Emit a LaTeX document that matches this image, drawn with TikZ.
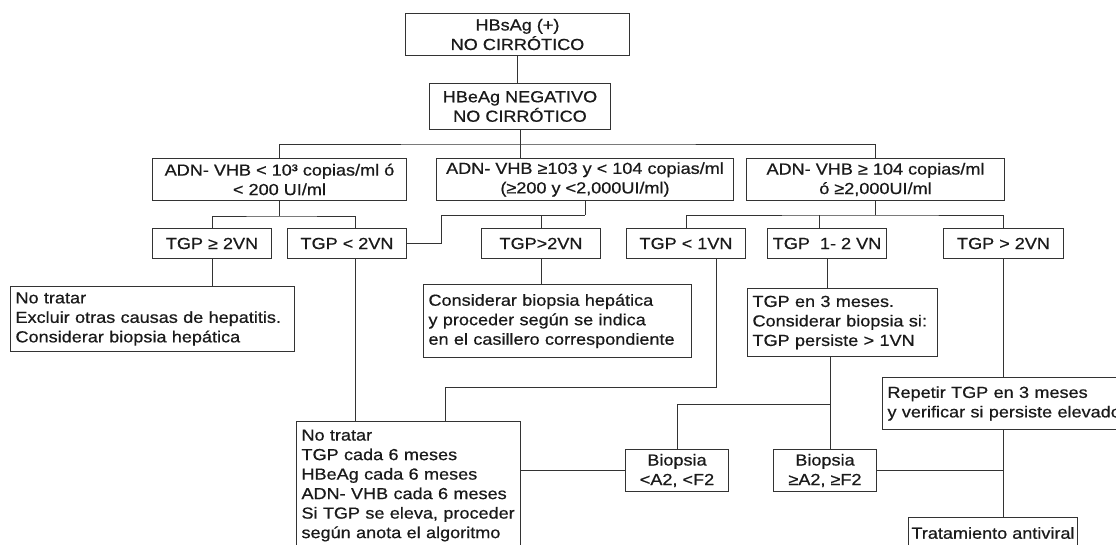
\documentclass[tikz,border=0pt]{standalone}
\usepackage{fontspec}
\setmainfont{Liberation Sans}[FakeStretch=1.13, FakeBold=0.6]
\usepackage{tikz}
\usetikzlibrary{positioning, calc}
\definecolor{ink} {HTML}{1A1A1A}
\definecolor{rule}{HTML}{333333}

\begin{document}
\begin{tikzpicture}[x=1pt, y=-1pt,
      box/.style ={draw=rule, line width=1pt, fill=white, anchor=north west,
                   font=\fontsize{16}{19.5}\selectfont, text=ink,
                   align=center, inner sep=0pt},
      tgp/.style ={box, minimum width=119pt, minimum height=30pt},
      lbox/.style={box, align=left, inner xsep=5pt},
      link/.style={draw=rule, line width=1pt}]

    \useasboundingbox (0,0) rectangle (1116,544);
    \fill[white] (0,0) rectangle (1116,544);
    \clip (0,0) rectangle (1116,544);

    % top of the tree
    \node[box, minimum width=224pt, minimum height=42pt] (hbs) at (405,13) {HBsAg (+)\\NO CIRRÓTICO};
    \node[box, minimum width=181pt, minimum height=46pt] (hbe) at (429,83) {HBeAg NEGATIVO\\NO CIRRÓTICO};

    \node[box, minimum width=254pt, minimum height=42pt] (adn1) at (152,158) {ADN- VHB < 10³ copias/ml ó\\< 200 UI/ml};
    \node[box, minimum width=297pt, minimum height=42pt] (adn2) at (436,158) {ADN- VHB ≥103 y < 104 copias/ml\\(≥200 y <2,000UI/ml)};
    \node[box, minimum width=258pt, minimum height=42pt] (adn3) at (746,158) {ADN- VHB ≥ 104 copias/ml\\ó ≥2,000UI/ml};

    \node[tgp] (tgpA) at (152,228) {TGP ≥ 2VN};
    \node[tgp] (tgpB) at (287,228) {TGP < 2VN};
    \node[tgp] (tgpC) at (481,228) {TGP>2VN};
    \node[tgp] (tgpD) at (626,228) {TGP < 1VN};
    \node[tgp] (tgpE) at (767,228) {TGP~ 1- 2 VN};
    \node[tgp, minimum width=120pt] (tgpF) at (943,228) {TGP > 2VN};

    % actions
    \node[lbox, text width=274pt, minimum height=65pt] (notA) at (10,286)
      {No tratar\\Excluir otras causas de hepatitis.\\Considerar biopsia hepática};
    \node[lbox, text width=258pt, minimum height=73pt] (cons) at (423,284)
      {Considerar biopsia hepática\\y proceder según se indica\\en el casillero correspondiente};
    \node[lbox, text width=180pt, minimum height=68pt] (tgp3m) at (747,288)
      {TGP en 3 meses.\\Considerar biopsia si:\\TGP persiste > 1VN};
    \node[lbox, text width=214pt, minimum height=128pt] (notB) at (296,421)
      {No tratar\\TGP cada 6 meses\\HBeAg cada 6 meses\\ADN- VHB cada 6 meses\\Si TGP se eleva, proceder\\según anota el algoritmo};
    \node[box, minimum width=103pt, minimum height=42pt] (biopA) at (625,449) {Biopsia\\<A2, <F2};
    \node[box, minimum width=103pt, minimum height=42pt] (biopB) at (773,449) {Biopsia\\≥A2, ≥F2};
    \node[lbox, text width=262pt, minimum height=52pt] (rep) at (882,377)
      {Repetir TGP en 3 meses\\y verificar si persiste elevado};
    \node[box, minimum width=169pt, minimum height=31pt] (trat) at (908,517) {Tratamiento antiviral};

    % connectors
    \coordinate (s1) at ($(hbe.south)+(0,14)$);
    \coordinate (s2) at ($(adn1.south)+(0,15)$);
    \coordinate (s3) at ($(adn2.south)+(0,14)$);
    \coordinate (s4) at ($(adn3.south)+(0,14)$);
    \coordinate (e4) at ([xshift=-8pt]tgpE.north);
    \coordinate (b1) at ([xshift=8pt]tgpB.south);
    \coordinate (d1) at ([xshift=30pt]tgpD.south);
    \coordinate (n1) at ([xshift=37pt]notB.north);
    \coordinate (e2) at ([xshift=-12pt]tgp3m.south);

    \draw[link] (hbs.south) -- (hbs.south |- hbe.north);
    \draw[link] (hbe.south) -- (hbe.south |- adn2.north);
    \draw[link] (adn1.north) |- (s1) -| (adn3.north);

    \draw[link] (adn1.south) -- (s2);
    \draw[link] (tgpA.north) |- (s2) -| ([xshift=8pt]tgpB.north);
    \draw[link] (adn2.south) -- (s3);
    \draw[link] (tgpC.north) |- (s3);
    \draw[link] (tgpB.east) -- ++(34,0) |- (s3);
    \draw[link] (adn3.south) -- (s4);
    \draw[link] (tgpD.north) |- (s4) -| (tgpF.north);
    \draw[link] (e4) -- (e4 |- s4);

    \draw[link] (tgpA.south) -- (tgpA.south |- notA.north);
    \draw[link] (b1) -- (b1 |- notB.north);
    \draw[link] (tgpC.south) -- (tgpC.south |- cons.north);
    \draw[link] (d1) -- ++(0,128) -| (n1);
    \draw[link] (tgpE.south) -- (tgpE.south |- tgp3m.north);
    \draw[link] (e2) -- (e2 |- biopB.north);
    \draw[link] (biopA.north) |- ($(e2)+(0,47)$);
    \draw[link] (tgpF.south) -- (tgpF.south |- rep.north);
    \draw[link] (tgpF.south |- rep.south) -- (tgpF.south |- trat.north);
    \draw[link] (biopB.east) -- (biopB.east -| tgpF.south);
    \draw[link] (biopA.west) -- (biopA.west -| notB.east);
\end{tikzpicture}
\end{document}
